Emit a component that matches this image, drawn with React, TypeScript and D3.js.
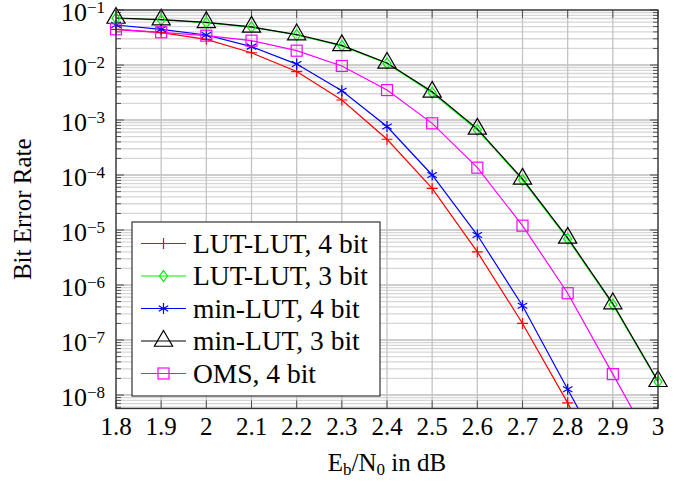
import React from "react";
import * as d3 from "d3";

const snr = [1.8, 1.9, 2.0, 2.1, 2.2, 2.3, 2.4, 2.5, 2.6, 2.7, 2.8, 2.9, 3.0];
const lutLut4 = [0.0446, 0.0388, 0.0293, 0.0167, 0.0076, 0.00231, 4.47e-4, 5.7e-5, 4.0e-6, 2.0e-7, 7.2e-9, 2e-10];
const lutLut3 = [0.0705, 0.0658, 0.0589, 0.0485, 0.0351, 0.0222, 0.0107, 3.14e-3, 6.6e-4, 8.1e-5, 6.9e-6, 4.4e-7, 1.74e-8];
const minLut4 = [0.0534, 0.0446, 0.0351, 0.0216, 0.0104, 0.00341, 7.6e-4, 1.0e-4, 8.1e-6, 4.2e-7, 1.27e-8, 4e-10];
const minLut3 = [0.0715, 0.0668, 0.0598, 0.0493, 0.0358, 0.0227, 0.0109, 3.25e-3, 6.9e-4, 8.5e-5, 7.2e-6, 4.6e-7, 1.78e-8];
const oms4 = [0.0446, 0.0393, 0.0341, 0.0277, 0.0182, 0.0096, 0.0035, 8.7e-4, 1.36e-4, 1.2e-5, 7.1e-7, 2.4e-8, 8e-10];

const seriesNames = ["LUT-LUT, 4 bit", "LUT-LUT, 3 bit", "min-LUT, 4 bit", "min-LUT, 3 bit", "OMS, 4 bit"];
const seriesValues = [lutLut4, lutLut3, minLut4, minLut3, oms4];
const seriesColors = ["#ff0000", "#00f000", "#0000ff", "#000000", "#ff00ff"];
const seriesMarks = ["plus", "diamond", "asterisk", "triangle", "square"];

const xTicks = [1.8, 1.9, 2.0, 2.1, 2.2, 2.3, 2.4, 2.5, 2.6, 2.7, 2.8, 2.9, 3.0];
const xTickLabels = ["1.8", "1.9", "2", "2.1", "2.2", "2.3", "2.4", "2.5", "2.6", "2.7", "2.8", "2.9", "3"];
const yExps = [-1, -2, -3, -4, -5, -6, -7, -8];

const X0 = 116, X1 = 658, Y0 = 10, Y1 = 408.5;
const FONT = "'Liberation Serif', 'Times New Roman', serif";

function Marker({ type, x, y, color }: { type: string; x: number; y: number; color: string }) {
  const r = 5.5;
  if (type === "plus")
    return <path d={`M${x - r},${y}H${x + r}M${x},${y - r}V${y + r}`} stroke={color} strokeWidth={1.2} fill="none" />;
  if (type === "diamond")
    return <path d={`M${x},${y - 5.5}L${x + 4},${y}L${x},${y + 5.5}L${x - 4},${y}Z`} stroke={color} strokeWidth={1.2} fill="none" />;
  if (type === "asterisk") {
    const c = r * Math.cos(Math.PI / 6), s = r * Math.sin(Math.PI / 6);
    return <path d={`M${x},${y - r}V${y + r}M${x - c},${y - s}L${x + c},${y + s}M${x - c},${y + s}L${x + c},${y - s}`} stroke={color} strokeWidth={1.2} fill="none" />;
  }
  if (type === "triangle") {
    const R = 10.5;
    const h = R * Math.cos(Math.PI / 6);
    return <path d={`M${x},${y - R}L${x + h},${y + R / 2}L${x - h},${y + R / 2}Z`} stroke={color} strokeWidth={1.2} fill="none" />;
  }
  return <rect x={x - 5.5} y={y - 5.5} width={11} height={11} stroke={color} strokeWidth={1.2} fill="none" />;
}

export default function App() {
  const x = d3.scaleLinear().domain([1.8, 3.0]).range([X0, X1]);
  const yMin = Math.pow(10, -8.245);
  const y = d3.scaleLog().domain([yMin, 0.1]).range([Y1, Y0]);

  const minorVals: number[] = [];
  for (let e = -9; e <= -2; e++) for (let m = 2; m <= 9; m++) {
    const v = m * Math.pow(10, e);
    if (v >= yMin && v <= 0.1) minorVals.push(v);
  }

  const line = d3.line<[number, number]>().x((d) => x(d[0])).y((d) => y(d[1]));

  const legend = { x: 132, y: 222, w: 248, h: 174 };

  return (
    <svg width={686} height={483} style={{ position: "absolute", left: 0, top: 0 }} fontFamily={FONT}>
      <defs>
        <clipPath id="plotclip"><rect x={X0} y={Y0} width={X1 - X0} height={Y1 - Y0} /></clipPath>
      </defs>
      <rect x={0} y={0} width={686} height={483} fill="#fff" />
      {minorVals.map((v, i) => (
        <line key={"mg" + i} x1={X0} x2={X1} y1={y(v)} y2={y(v)} stroke="#d6d6d6" strokeWidth={1.3} />
      ))}
      {yExps.map((e) => (
        <line key={"Mg" + e} x1={X0} x2={X1} y1={y(Math.pow(10, e))} y2={y(Math.pow(10, e))} stroke="#bcbcbc" strokeWidth={1.3} />
      ))}
      {xTicks.map((t) => (
        <line key={"vg" + t} x1={x(t)} x2={x(t)} y1={Y0} y2={Y1} stroke="#c4c4c4" strokeWidth={1.3} />
      ))}
      {minorVals.map((v, i) => (
        <g key={"mt" + i} stroke="#444" strokeWidth={0.9}>
          <line x1={X0} x2={X0 + 5} y1={y(v)} y2={y(v)} />
          <line x1={X1 - 5} x2={X1} y1={y(v)} y2={y(v)} />
        </g>
      ))}
      {yExps.map((e) => (
        <g key={"Mt" + e} stroke="#444" strokeWidth={0.9}>
          <line x1={X0} x2={X0 + 8} y1={y(Math.pow(10, e))} y2={y(Math.pow(10, e))} />
          <line x1={X1 - 8} x2={X1} y1={y(Math.pow(10, e))} y2={y(Math.pow(10, e))} />
        </g>
      ))}
      {xTicks.map((t) => (
        <g key={"xt" + t} stroke="#444" strokeWidth={0.9}>
          <line x1={x(t)} x2={x(t)} y1={Y1} y2={Y1 - 8} />
          <line x1={x(t)} x2={x(t)} y1={Y0} y2={Y0 + 8} />
        </g>
      ))}
      <g clipPath="url(#plotclip)">
        {seriesValues.map((vals, si) => (
          <path key={"l" + si} d={line(vals.map((v, i) => [snr[i], v] as [number, number])) || ""} stroke={seriesColors[si]} strokeWidth={1.2} fill="none" />
        ))}
      </g>
      {seriesValues.map((vals, si) => (
        <g key={"m" + si}>
          {vals.map((v, i) => (v >= yMin ? <Marker key={i} type={seriesMarks[si]} x={x(snr[i])} y={y(v)} color={seriesColors[si]} /> : null))}
        </g>
      ))}
      <rect x={X0} y={Y0} width={X1 - X0} height={Y1 - Y0} fill="none" stroke="#333" strokeWidth={1.3} />
      {xTicks.map((t, i) => (
        <text key={"xl" + t} x={x(t)} y={435} textAnchor="middle" fontSize={25} fill="#000">{xTickLabels[i]}</text>
      ))}
      {yExps.map((e) => {
        const yy = y(Math.pow(10, e));
        return (
          <text key={"yl" + e} x={105} y={yy + 11} textAnchor="end" fontSize={26} fill="#000">
            10<tspan fontSize={17} dy={-8}>{"\u2212" + String(-e)}</tspan>
          </text>
        );
      })}
      <text x={(X0 + X1) / 2} y={471} textAnchor="middle" fontSize={25} fill="#000">
        E<tspan fontSize={17} dy={4}>b</tspan><tspan dy={-4}>/N</tspan><tspan fontSize={17} dy={4}>0</tspan><tspan dy={-4}> in dB</tspan>
      </text>
      <text transform={`translate(31,${(Y0 + Y1) / 2}) rotate(-90)`} textAnchor="middle" fontSize={25} fill="#000">Bit Error Rate</text>
      <rect x={legend.x} y={legend.y} width={legend.w} height={legend.h} fill="#fff" stroke="#333" strokeWidth={1.2} />
      {seriesNames.map((name, i) => {
        const ly = legend.y + 21.5 + i * 32.5;
        return (
          <g key={"lg" + i}>
            <line x1={141} x2={186} y1={ly} y2={ly} stroke={seriesColors[i]} strokeWidth={1.2} />
            <Marker type={seriesMarks[i]} x={163.5} y={ly} color={seriesColors[i]} />
            <text x={193} y={ly + 9} fontSize={27.5} fill="#000">{name}</text>
          </g>
        );
      })}
    </svg>
  );
}
